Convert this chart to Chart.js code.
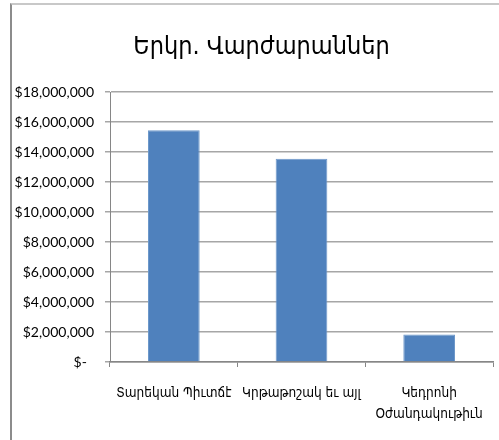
<!DOCTYPE html>
<html>
<head>
<meta charset="utf-8">
<script src="https://cdn.jsdelivr.net/npm/chart.js@4.4.1/dist/chart.umd.min.js"></script>
<style>
    html, body { margin: 0; padding: 0; background: #fff; overflow: hidden; width: 499px; height: 440px; }
    #frame {
        position: absolute; left: 10px; top: 3px; width: 500px; height: 437px;
        border-left: 2px solid #8c8c8c; border-top: 2px solid #c8c8c8; box-sizing: border-box;
    }
    #frame canvas { position: absolute; left: 0; top: 0; }
</style>
</head>
<body>
<div id="frame"><canvas id="bar-chart" width="498" height="435"></canvas></div>
<script>
// chart data
const chartTitle = 'Երկր. Վարժարաններ';
const categories = ['Տարեկան Պիւտճէ', 'Կրթաթոշակ եւ այլ', ['Կեդրոնի', 'Օժանդակութիւն']];
const amounts = [15450000, 13550000, 1830000];
const yMax = 18000000;
const yStep = 2000000;

const armFont = "'DejaVu Sans Condensed', 'DejaVu Sans', sans-serif";

// the original frame is wider than the picture, so its title sits a bit right of centre
const shiftTitle = {
    id: 'shiftTitle',
    afterLayout(chart) {
        if (chart.titleBlock) {
            chart.titleBlock.left += 9;
            chart.titleBlock.right += 9;
        }
    }
};

document.addEventListener('DOMContentLoaded', () => {
    const ctx = document.getElementById('bar-chart').getContext('2d');

    new Chart(ctx, {
        type: 'bar',
        data: {
            labels: categories,
            datasets: [{
                data: amounts,
                backgroundColor: '#4f81bd',
                borderColor: '#6e98ca',
                borderWidth: 1,
                barPercentage: 0.405,
                categoryPercentage: 1
            }]
        },
        options: {
            responsive: false,
            animation: false,
            layout: {
                padding: { left: 0, right: 17, top: 0, bottom: 0 }
            },
            plugins: {
                legend: { display: false },
                tooltip: { enabled: false },
                title: {
                    display: true,
                    text: chartTitle,
                    color: '#000',
                    padding: { top: 27, bottom: 30 },
                    font: { family: armFont, size: 25, weight: 'normal' }
                }
            },
            scales: {
                y: {
                    min: 0,
                    max: yMax,
                    afterFit: (axis) => { axis.width = 98; },
                    border: { display: true, color: '#868686', width: 1 },
                    grid: {
                        color: '#a6a6a6',
                        lineWidth: 1.5,
                        tickLength: 5,
                        drawTicks: true
                    },
                    ticks: {
                        stepSize: yStep,
                        padding: 11,
                        color: '#000',
                        font: { family: 'Lato', size: 14 },
                        callback: (value) => value === 0 ? '$-  ' : '$' + value.toLocaleString('en-US')
                    }
                },
                x: {
                    afterFit: (axis) => { axis.height = 78; },
                    border: { display: true, color: '#868686', width: 1.5 },
                    grid: {
                        display: true,
                        drawOnChartArea: false,
                        drawTicks: true,
                        tickLength: 5,
                        color: '#868686',
                        offset: true
                    },
                    ticks: {
                        padding: 16,
                        color: '#000',
                        maxRotation: 0,
                        autoSkip: false,
                        font: { family: armFont, size: 13.5, lineHeight: 1.55 }
                    }
                }
            }
        },
        plugins: [shiftTitle]
    });
});
</script>
</body>
</html>
